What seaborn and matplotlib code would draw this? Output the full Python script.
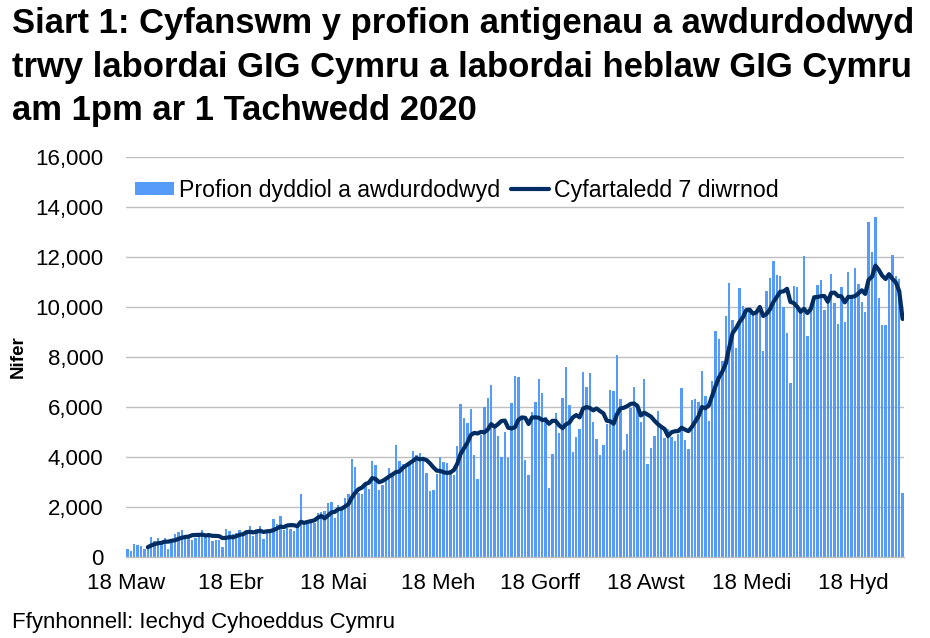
import numpy as np
import pandas as pd
import matplotlib
matplotlib.use("Agg")
import matplotlib.pyplot as plt
import seaborn as sns
from matplotlib.patches import Patch
from matplotlib.lines import Line2D

# daily authorised tests, 18 Mar 2020 .. 1 Nov 2020
start_date = "2020-03-18"
end_date = "2020-11-01"
daily_tests = [
    330, 250, 530, 510, 450, 330, 430, 810, 640, 770,
    630, 770, 330, 690, 950, 1010, 1090, 850, 880, 710,
    770, 960, 1090, 850, 960, 670, 690, 690, 430, 1150,
    1050, 930, 960, 1090, 850, 1010, 1260, 870, 1120, 1250,
    730, 1030, 1090, 1530, 1330, 1650, 1090, 1190, 1130, 1050,
    1290, 2530, 1360, 1360, 1400, 1370, 1760, 1800, 1850, 2160,
    2210, 1590, 2090, 1920, 2390, 2530, 3950, 3610, 2590, 2530,
    2910, 2750, 3850, 3690, 2710, 2910, 3140, 3590, 3330, 4490,
    3850, 3730, 3560, 3800, 4250, 4080, 4170, 3970, 3370, 2650,
    2690, 3330, 4000, 3810, 3770, 3510, 3290, 4450, 6130, 5570,
    5370, 5930, 4090, 3130, 4890, 6000, 6370, 6890, 5150, 4850,
    4010, 5010, 3990, 6170, 7250, 7210, 5530, 3890, 3290, 5810,
    6210, 7130, 6570, 5600, 2770, 4130, 5770, 4970, 6370, 7610,
    6090, 4210, 4810, 5130, 7410, 6810, 7370, 5410, 4730, 4090,
    4490, 5330, 6690, 6650, 8090, 6330, 4290, 4930, 5970, 6810,
    5970, 5410, 7130, 3730, 4370, 4850, 5850, 5210, 4770, 5150,
    4800, 4650, 4930, 6770, 4690, 4330, 6290, 6330, 6210, 7450,
    6450, 5450, 7050, 9050, 8730, 7850, 9650, 10970, 9490, 8370,
    10770, 10050, 9890, 9810, 9840, 9850, 9880, 8250, 10650, 11170,
    11850, 11290, 11250, 10010, 8970, 6970, 10850, 10810, 9890, 12050,
    8850, 10090, 10290, 10890, 11090, 9890, 10450, 11330, 10170, 9330,
    10810, 9410, 11410, 10450, 11560, 10920, 10200, 9800, 13400, 12200,
    13600, 10360, 9280, 9280, 11160, 12080, 11240, 11120, 2570,
]
tick_dates = ["2020-03-18", "2020-04-18", "2020-05-18", "2020-06-18",
              "2020-07-18", "2020-08-18", "2020-09-18", "2020-10-18"]
tick_labels = ["18 Maw", "18 Ebr", "18 Mai", "18 Meh",
               "18 Gorff", "18 Awst", "18 Medi", "18 Hyd"]
y_ticks = [0, 2000, 4000, 6000, 8000, 10000, 12000, 14000, 16000]

bar_label = "Profion dyddiol a awdurdodwyd"
line_label = "Cyfartaledd 7 diwrnod"
title_lines = ["Siart 1: Cyfanswm y profion antigenau a awdurdodwyd",
               "trwy labordai GIG Cymru a labordai heblaw GIG Cymru",
               "am 1pm ar 1 Tachwedd 2020"]

BAR_COLOR = "#559BF7"
LINE_COLOR = "#002D62"
GRID_COLOR = "#BFBFBF"

dates = pd.date_range(start_date, end_date, freq="D")
df = pd.DataFrame({"date": dates, "tests": daily_tests})
df["pos"] = np.arange(len(df))
df["avg7"] = df["tests"].rolling(7).mean()

sns.set_style("white")
plt.rcParams["font.family"] = ["Liberation Sans", "DejaVu Sans"]
plt.rcParams["text.color"] = "black"

fig = plt.figure(figsize=(9.3, 6.38), dpi=100)
ax = fig.add_axes([125.7 / 930, 1 - 557.3 / 638, 778.6 / 930, 400 / 638])

sns.barplot(data=df, x="pos", y="tests", color=BAR_COLOR, saturation=1,
            width=0.72, errorbar=None, linewidth=0, antialiased=False, ax=ax)
line_df = df.dropna(subset=["avg7"])
sns.lineplot(data=line_df, x="pos", y="avg7", color=LINE_COLOR, linewidth=3,
             estimator=None, errorbar=None, ax=ax)

ax.set_xlim(-0.5, len(df) - 0.5)
ax.set_ylim(0, 16000)
tick_pos = [(pd.Timestamp(d) - dates[0]).days - 0.5 for d in tick_dates]
ax.set_xticks(tick_pos)
ax.set_xticklabels(tick_labels, fontsize=16, color="black")
ax.set_yticks(y_ticks)
ax.set_yticklabels([f"{v:,}" for v in y_ticks], fontsize=16, color="black")
ax.tick_params(axis="x", length=4.3, width=1, color=GRID_COLOR, pad=7, direction="out")
ax.tick_params(axis="y", length=0, pad=16)
ax.set_xlabel("")
ax.set_ylabel("")

ax.yaxis.grid(True, color=GRID_COLOR, linewidth=1)
ax.xaxis.grid(False)
ax.set_axisbelow(True)
for side in ["top", "right", "left"]:
    ax.spines[side].set_visible(False)
ax.spines["bottom"].set_color(GRID_COLOR)
ax.spines["bottom"].set_linewidth(1)

handles = [Patch(facecolor=BAR_COLOR, edgecolor="none", label=bar_label),
           Line2D([0], [0], color=LINE_COLOR, linewidth=3, label=line_label)]
fig.legend(handles=handles, loc="center", bbox_to_anchor=(457 / 930, 1 - 190 / 638),
           ncol=2, frameon=False, fontsize=16.7, handlelength=1.65, handleheight=0.48,
           handletextpad=0.22, columnspacing=0.47, borderpad=0, borderaxespad=0)

for i, line in enumerate(title_lines):
    fig.text(12 / 930, 1 - (33.3 + 43.4 * i) / 638, line, fontsize=24.9,
             fontweight="bold", color="black", ha="left", va="baseline")

fig.text(18 / 930, 1 - 357 / 638, "Nifer", rotation=90, fontsize=13.5,
         fontweight="bold", color="black", ha="center", va="center")
fig.text(12 / 930, 1 - 628 / 638, "Ffynhonnell: Iechyd Cyhoeddus Cymru",
         fontsize=16, color="black", ha="left", va="baseline")

fig.savefig("out.png", dpi=100)
